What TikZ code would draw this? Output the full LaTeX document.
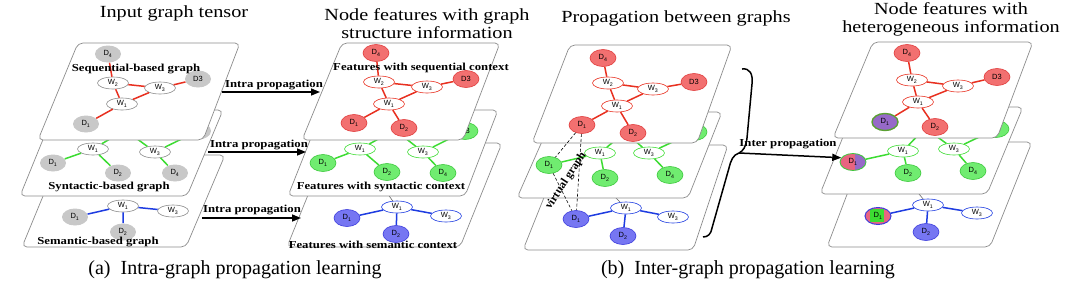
\documentclass[tikz,border=0pt]{standalone}
\usepackage{fontspec}
\setmainfont{Liberation Serif}
\setsansfont{Liberation Sans}
\usepackage{graphicx}
\usetikzlibrary{shapes.geometric,arrows.meta}
\definecolor{redE}{RGB}{232,48,32}
\definecolor{redF}{RGB}{242,112,112}
\definecolor{redB}{RGB}{225,60,60}
\definecolor{grnE}{RGB}{60,220,50}
\definecolor{grnF}{RGB}{112,236,112}
\definecolor{grnB}{RGB}{60,200,60}
\definecolor{bluE}{RGB}{30,60,225}
\definecolor{bluF}{RGB}{118,118,242}
\definecolor{bluB}{RGB}{60,60,220}
\definecolor{gryF}{RGB}{200,200,200}
\definecolor{plateB}{RGB}{140,140,140}
\definecolor{purF}{RGB}{150,105,200}
\definecolor{pnkF}{RGB}{232,100,128}
\definecolor{oliveB}{RGB}{90,160,50}
\newcommand\sx[1]{\scalebox{1.19}[1]{#1}}
\newcommand\myD[1]{D\textsubscript{#1}}
\newcommand\myW[1]{W\textsubscript{#1}}
\newcommand\plate[6]{\filldraw[plate] (#1,#3) -- (#2,#3) -- (#5,#6) -- (#4,#6) -- cycle;}
\tikzset{
  plate/.style={fill=white, draw=plateB, line width=0.7pt, rounded corners=5pt},
  dn/.style={ellipse, minimum width=26pt, minimum height=17pt, inner sep=0pt,
    font=\sffamily\fontsize{7.5}{8}\selectfont, line width=0.6pt},
  wn/.style={ellipse, minimum width=31pt, minimum height=12pt, inner sep=0pt, fill=white,
    font=\sffamily\fontsize{7.5}{8}\selectfont, line width=0.6pt},
  hid/.style={circle, minimum size=2pt, inner sep=0pt},
  dgray/.style={dn, fill=gryF},
  dred/.style={dn, fill=redF, draw=redB},
  dgrn/.style={dn, fill=grnF, draw=grnB},
  dblu/.style={dn, fill=bluF, draw=bluB},
  wgray/.style={wn, draw=plateB},
  wred/.style={wn, draw=redE},
  wgrn/.style={wn, draw=grnE},
  wblu/.style={wn, draw=bluE},
  er/.style={draw=redE, line width=1.5pt},
  eg/.style={draw=grnE, line width=1.5pt},
  eb/.style={draw=bluE, line width=1.5pt},
  eh/.style={draw=black!60, line width=0.6pt},
  lbl/.style={font=\bfseries\fontsize{10.7}{12}\selectfont, inner sep=0pt},
  ttl/.style={font=\fontsize{17}{18}\selectfont, align=center, inner sep=0pt},
  captxt/.style={font=\fontsize{20}{22}\selectfont, inner sep=0pt},
  arr/.style={line width=1.5pt, -{Triangle[length=9pt,width=7pt]}},
  vd/.style={dashed, line width=0.6pt, dash pattern=on 3pt off 2pt}
}
\begin{document}
\begin{tikzpicture}[x=1pt,y=-1pt]
\useasboundingbox (0,0) rectangle (1080,285);
\fill[white] (0,0) rectangle (1080,285);

% titles
\node[ttl] (t1) at (174,13) {\sx{Input graph tensor}};
\node[ttl] (t2) at (427,24) {\sx{Node features with graph}\\\sx{structure information}};
\node[ttl] (t3) at (676,18) {\sx{Propagation between graphs}};
\node[ttl] (t4) at (951,19) {\sx{Node features with}\\\sx{heterogeneous information}};

% ===== Column 1 =====
\plate{60}{225}{155}{22}{186}{247}
\node[wgray] (c1bW1) at (123,206) {\myW{1}};
\node[wgray] (c1bW3) at (173,211) {\myW{3}};
\node[dgray] (c1bD1) at (75,217) {\myD{1}};
\node[dgray] (c1bD2) at (123,232) {\myD{2}};
\draw[eb] (c1bW1)--(c1bD1) (c1bW1)--(c1bW3) (c1bW1)--(c1bD2);
\node[lbl] (l1b) at (98,242) {\sx{Semantic-based graph}};

\plate{55}{223}{110}{20}{187}{196}
\node[wgray] (c1mW2) at (125,130) {\myW{2}};
\node[dgray] (c1mD3) at (198,131) {D3};
\node[wgray] (c1mW1) at (93,149) {\myW{1}};
\node[wgray] (c1mW3) at (155,152) {\myW{3}};
\node[dgray] (c1mD1) at (53,163) {\myD{1}};
\node[dgray] (c1mD2) at (118,173) {\myD{2}};
\node[dgray] (c1mD4) at (175,173) {\myD{4}};
\draw[eg] (c1mW1)--(c1mD1) (c1mW1)--(c1mD2) (c1mW1)--(c1mW2) (c1mW3)--(c1mW2) (c1mW3)--(c1mD3) (c1mW3)--(c1mD4);
\node[lbl] (l1m) at (109,187) {\sx{Syntactic-based graph}};

\plate{78}{240}{43}{38}{203}{140}
\node[dgray] (c1tD4) at (108,54) {\myD{4}};
\node[wgray] (c1tW2) at (113,83) {\myW{2}};
\node[wgray] (c1tW3) at (160,88) {\myW{3}};
\node[wgray] (c1tW1) at (122,104) {\myW{1}};
\node[dgray] (c1tD1) at (86,124) {\myD{1}};
\node[dgray] (c1tD3) at (198,79) {D3};
\draw[er] (c1tD4)--(c1tW2) (c1tW2)--(c1tW3) (c1tW2)--(c1tW1) (c1tW1)--(c1tW3) (c1tW3)--(c1tD3) (c1tW1)--(c1tD1);
\node[lbl] (l1t) at (136,69) {\sx{Sequential-based graph}};

% ===== Column 2 =====
\plate{329}{502}{143}{287}{460}{247}
\node[hid] (c2bW2) at (380,183) {};
\node[wblu] (c2bW1) at (397,207) {\myW{1}};
\node[wblu] (c2bW3) at (446,216) {\myW{3}};
\node[dblu] (c2bD1) at (347,218) {\myD{1}};
\node[dblu] (c2bD2) at (396,234) {\myD{2}};
\draw[eh] (c2bW1)--(c2bW2);
\draw[eb] (c2bW1)--(c2bD1) (c2bW1)--(c2bW3) (c2bW1)--(c2bD2);
\node[lbl] (l2b) at (373,245) {\sx{Features with semantic context}};

\plate{322}{498}{110}{288}{465}{196}
\node[wgrn] (c2mW2) at (395,130) {\myW{2}};
\node[dgrn] (c2mD3) at (465,131) {D3};
\node[wgrn] (c2mW1) at (360,149) {\myW{1}};
\node[wgrn] (c2mW3) at (423,152) {\myW{3}};
\node[dgrn] (c2mD1) at (323,163) {\myD{1}};
\node[dgrn] (c2mD2) at (387,172) {\myD{2}};
\node[dgrn] (c2mD4) at (443,173) {\myD{4}};
\draw[eg] (c2mW1)--(c2mD1) (c2mW1)--(c2mD2) (c2mW1)--(c2mW2) (c2mW3)--(c2mW2) (c2mW3)--(c2mD3) (c2mW3)--(c2mD4);
\node[lbl] (l2m) at (381,187) {\sx{Features with syntactic context}};

\plate{342}{500}{43}{302}{463}{140}
\node[dred] (c2tD4) at (376,53) {\myD{4}};
\node[wred] (c2tW2) at (379,82) {\myW{2}};
\node[wred] (c2tW3) at (427,87) {\myW{3}};
\node[wred] (c2tW1) at (389,104) {\myW{1}};
\node[dred] (c2tD1) at (354,123) {\myD{1}};
\node[dred] (c2tD2) at (404,128) {\myD{2}};
\node[dred] (c2tD3) at (466,79) {D3};
\draw[er] (c2tD4)--(c2tW2) (c2tW2)--(c2tW3) (c2tW2)--(c2tW1) (c2tW1)--(c2tW3) (c2tW3)--(c2tD3) (c2tW1)--(c2tD1) (c2tW1)--(c2tD2);
\node[lbl] (l2t) at (421,68) {\sx{Features with sequential context}};

% intra arrows
\coordinate (ia1s) at (222,92); \coordinate (ia1e) at (320,92);
\coordinate (ia2s) at (208,152); \coordinate (ia2e) at (306,152);
\coordinate (ia3s) at (202,218); \coordinate (ia3e) at (301,218);
\draw[arr] (ia1s) -- (ia1e);
\draw[arr] (ia2s) -- (ia2e);
\draw[arr] (ia3s) -- (ia3e);
\node[lbl] (ia1) at (274,85) {\sx{Intra propagation}};
\node[lbl] (ia2) at (259,145) {\sx{Intra propagation}};
\node[lbl] (ia3) at (252,210) {\sx{Intra propagation}};

% ===== Column 3 =====
\plate{565}{728}{145}{523}{693}{250}
\node[hid] (c3bW2) at (607,189) {};
\node[wblu] (c3bW1) at (626,208) {\myW{1}};
\node[wblu] (c3bW3) at (673,217) {\myW{3}};
\node[dblu] (c3bD1) at (576,219) {\myD{1}};
\node[dblu] (c3bD2) at (623,236) {\myD{2}};
\draw[eh] (c3bW1)--(c3bW2);
\draw[eb] (c3bW1)--(c3bD1) (c3bW1)--(c3bW3) (c3bW1)--(c3bD2);

\plate{555}{722}{112}{517}{688}{198}
\node[wgrn] (c3mW2) at (625,132) {\myW{2}};
\node[dgrn] (c3mD3) at (694,132) {D3};
\node[wgrn] (c3mW1) at (600,153) {\myW{1}};
\node[wgrn] (c3mW3) at (649,153) {\myW{3}};
\node[dgrn] (c3mD1) at (549,165) {\myD{1}};
\node[dgrn] (c3mD2) at (605,178) {\myD{2}};
\node[dgrn] (c3mD4) at (670,175) {\myD{4}};
\draw[eg] (c3mW1)--(c3mD1) (c3mW1)--(c3mD2) (c3mW1)--(c3mW2) (c3mW3)--(c3mW2) (c3mW3)--(c3mD3) (c3mW3)--(c3mD4);

\plate{570}{732}{45}{532}{697}{143}
\node[dred] (c3tD4) at (603,58) {\myD{4}};
\node[wred] (c3tW2) at (608,83) {\myW{2}};
\node[wred] (c3tW3) at (653,89) {\myW{3}};
\node[wred] (c3tW1) at (617,106) {\myW{1}};
\node[dred] (c3tD1) at (582,125) {\myD{1}};
\node[dred] (c3tD2) at (633,133) {\myD{2}};
\node[dred] (c3tD3) at (694,82) {D3};
\draw[er] (c3tD4)--(c3tW2) (c3tW2)--(c3tW3) (c3tW2)--(c3tW1) (c3tW1)--(c3tW3) (c3tW3)--(c3tD3) (c3tW1)--(c3tD1) (c3tW1)--(c3tD2);

% virtual graph
\draw[vd] (c3tD1) -- (c3mD1);
\draw[vd] (c3tD1) -- (c3bD1);
\draw[vd] (c3mD1) -- (c3bD1);
\node[font=\bfseries\fontsize{11.5}{12}\selectfont, inner sep=0pt, rotate=57] (vg) at (566,181) {virtual graph};

% brace and inter arrow
\coordinate (cusp) at (739,153);
\draw[line width=1.5pt] (742,69) .. controls (750,68) and (753,74) .. (752,84) -- (747,138)
  .. controls (746,147) and (743,151) .. (cusp)
  .. controls (733,155) and (731,160) .. (729,168) -- (712,228)
  .. controls (711,234) and (708,237) .. (703,237);

% ===== Column 4 =====
\plate{867}{1032}{142}{827}{990}{247}
\node[hid] (c4bW2) at (915,189) {};
\node[wblu] (c4bW1) at (928,205) {\myW{1}};
\node[wblu] (c4bW3) at (977,213) {\myW{3}};
\node[dn, fill=pnkF, draw=bluB, line width=1pt,
  path picture={\fill[grnE] ([shift={(-8pt,-6pt)}]path picture bounding box.center) rectangle ++(14pt,13pt);}]
  (c4bD1) at (878,216) {\myD{1}};
\node[dblu] (c4bD2) at (926,232) {\myD{2}};
\draw[eh] (c4bW1)--(c4bW2);
\draw[eb] (c4bW1)--(c4bD1) (c4bW1)--(c4bW3) (c4bW1)--(c4bD2);

\plate{855}{1023}{107}{820}{987}{194}
\node[wgrn] (c4mW2) at (925,128) {\myW{2}};
\node[dgrn] (c4mD3) at (996,129) {D3};
\node[wgrn] (c4mW1) at (903,151) {\myW{1}};
\node[wgrn] (c4mW3) at (954,149) {\myW{3}};
\node[dn, fill=pnkF, draw=grnB, line width=0.8pt,
  path picture={\fill[purF] ([xshift=2pt]path picture bounding box.north) rectangle (path picture bounding box.south east);}]
  (c4mD1) at (853,162) {\myD{1}};
\node[dgrn] (c4mD2) at (908,173) {\myD{2}};
\node[dgrn] (c4mD4) at (973,171) {\myD{4}};
\draw[eg] (c4mW1)--(c4mD1) (c4mW1)--(c4mD2) (c4mW1)--(c4mW2) (c4mW3)--(c4mW2) (c4mW3)--(c4mD3) (c4mW3)--(c4mD4);

\plate{873}{1033}{42}{833}{997}{138}
\node[dred] (c4tD4) at (907,53) {\myD{4}};
\node[wred] (c4tW2) at (912,80) {\myW{2}};
\node[wred] (c4tW3) at (958,86) {\myW{3}};
\node[wred] (c4tW1) at (918,102) {\myW{1}};
\node[dn, fill=purF, draw=oliveB, line width=1.4pt] (c4tD1) at (885,122) {\myD{1}};
\node[dred] (c4tD2) at (935,127) {\myD{2}};
\node[dred] (c4tD3) at (997,77) {D3};
\draw[er] (c4tD4)--(c4tW2) (c4tW2)--(c4tW3) (c4tW2)--(c4tW1) (c4tW1)--(c4tW3) (c4tW3)--(c4tD3) (c4tW1)--(c4tD1) (c4tW1)--(c4tD2);

\draw[arr] (cusp) -- (c4mD1.160);
\node[lbl] (ip) at (788,144) {\sx{Inter propagation}};

% captions
\node[captxt] (capa) at (235,270) {(a)\enspace Intra-graph propagation learning};
\node[captxt] (capb) at (748,270) {(b)\enspace Inter-graph propagation learning};
\end{tikzpicture}
\end{document}
